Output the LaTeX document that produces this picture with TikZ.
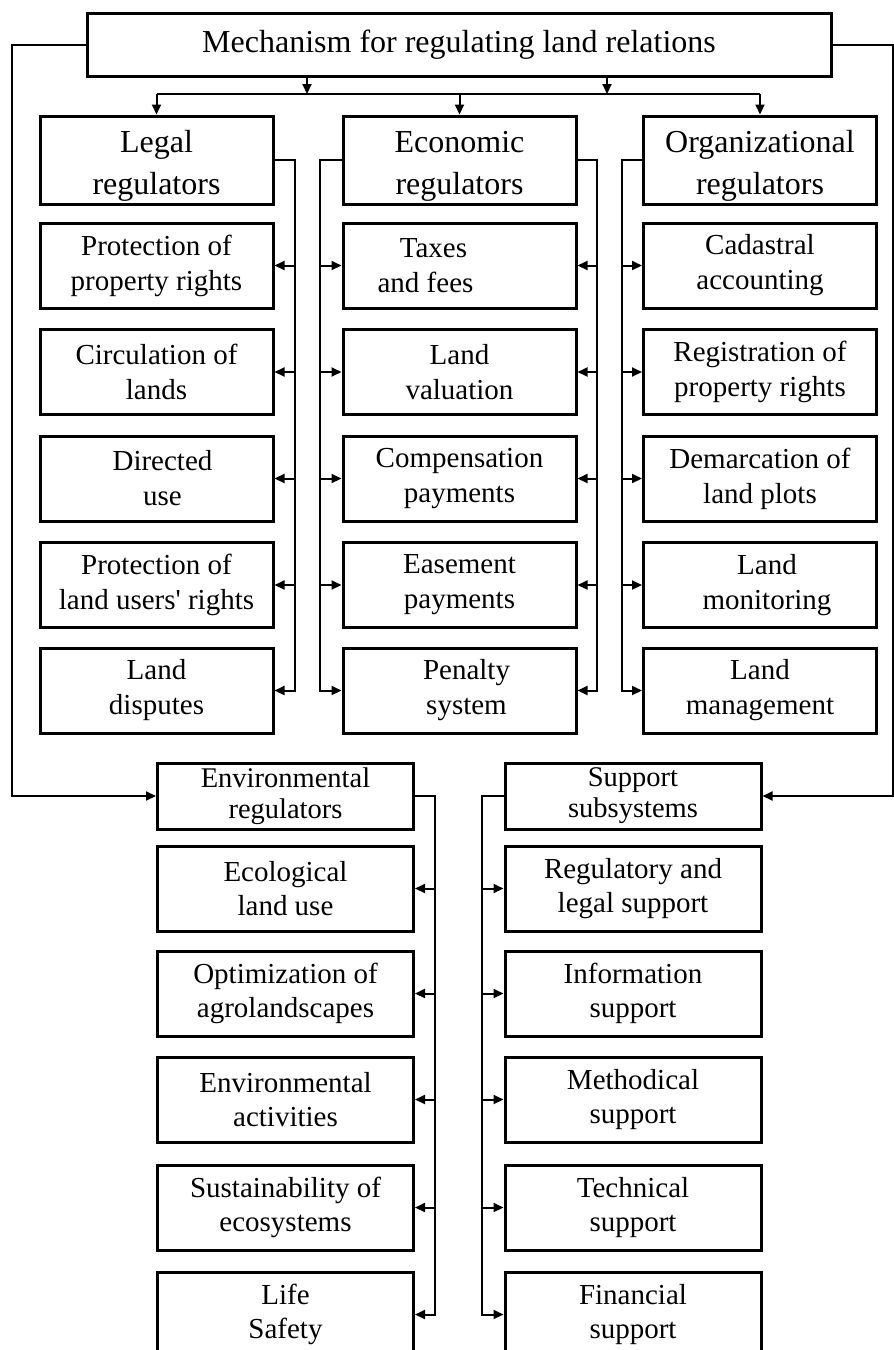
\documentclass[tikz,border=0pt]{standalone}
\usepackage{fontspec}
\setmainfont{Liberation Serif}
\usetikzlibrary{arrows.meta}
\newcommand\hdrstrut{\rule{0pt}{34pt}}
\begin{document}
\begin{tikzpicture}[x=1pt,y=-1pt,
  box/.style={draw, line width=3pt, align=center, inner sep=0pt, fill=white},
  ttl/.style={box, minimum width=744pt, minimum height=63pt, font=\fontsize{32}{38}\selectfont},
  hdr/.style={box, minimum width=233pt, minimum height=88pt, font=\fontsize{32}{42}\selectfont},
  itm/.style={box, minimum width=233pt, minimum height=85pt, font=\fontsize{29}{35}\selectfont},
  bhdr/.style={box, minimum width=256pt, minimum height=66pt, font=\fontsize{28.5}{31}\selectfont},
  bitm/.style={box, minimum width=256pt, minimum height=85pt, font=\fontsize{29}{34}\selectfont},
  conn/.style={line width=2pt},
  arr/.style={conn, -{Triangle[length=10pt,width=9pt]}}]
\path[use as bounding box, clip] (0,0) rectangle (894,1350);

% title
\node[ttl] (top) at (459,44.5) {Mechanism for regulating land relations};

% column headers
\node[hdr] (lh) at (156.5,160) {\hdrstrut Legal\\regulators};
\node[hdr] (eh) at (459.5,160) {\hdrstrut Economic\\regulators};
\node[hdr] (oh) at (760,160) {\hdrstrut Organizational\\regulators};

% legal
\node[itm] (l1) at (156.5,265.5) {Protection of\\property rights};
\node[itm] (l2) at (156.5,372) {Circulation of\\lands};
\node[itm] (l3) at (156.5,478.5) {\rule{12pt}{0pt}Directed\\\rule{12pt}{0pt}use};
\node[itm] (l4) at (156.5,585) {Protection of\\land users\textquotesingle\ rights};
\node[itm] (l5) at (156.5,690.5) {Land\\disputes};

% economic
\node[itm] (e1) at (459.5,265.5) {Taxes\rule{52pt}{0pt}\\and fees\rule{68pt}{0pt}};
\node[itm] (e2) at (459.5,372) {Land\\valuation};
\node[itm] (e3) at (459.5,478.5) {Compensation\\payments};
\node[itm] (e4) at (459.5,585) {Easement\\payments};
\node[itm] (e5) at (459.5,690.5) {\rule{14pt}{0pt}Penalty\\\rule{14pt}{0pt}system};

% organizational
\node[itm] (o1) at (760,265.5) {Cadastral\\accounting};
\node[itm] (o2) at (760,372) {Registration of\\property rights};
\node[itm] (o3) at (760,478.5) {Demarcation of\\land plots};
\node[itm] (o4) at (760,585) {\rule{14pt}{0pt}Land\\\rule{14pt}{0pt}monitoring};
\node[itm] (o5) at (760,690.5) {Land\\management};

% bottom headers
\node[bhdr] (env) at (285.5,796) {Environmental\\regulators};
\node[bhdr] (sup) at (633,796) {Support\\subsystems};

% environmental items
\node[bitm] (v1) at (285.5,888.5) {Ecological\\land use};
\node[bitm] (v2) at (285.5,993.5) {Optimization of\\agrolandscapes};
\node[bitm] (v3) at (285.5,1099.5) {Environmental\\activities};
\node[bitm] (v4) at (285.5,1207.5) {Sustainability of\\ecosystems};
\node[bitm] (v5) at (285.5,1314.5) {Life\\Safety};

% support items
\node[bitm] (s1) at (633,888.5) {Regulatory and\\legal support};
\node[bitm] (s2) at (633,993.5) {Information\\support};
\node[bitm] (s3) at (633,1099.5) {Methodical\\support};
\node[bitm] (s4) at (633,1207.5) {Technical\\support};
\node[bitm] (s5) at (633,1314.5) {Financial\\support};

% top distribution
\coordinate (bl) at (156.5,94);
\coordinate (br) at (760,94);
\draw[conn] (bl) -- (br);
\draw[arr] ([xshift=-152pt]top.south) -- ([xshift=-152pt]top.south |- bl);
\draw[arr] ([xshift=148pt]top.south) -- ([xshift=148pt]top.south |- bl);
\draw[arr] (bl) -- (lh.north);
\draw[arr] (eh.north |- bl) -- (eh.north);
\draw[arr] (br) -- (oh.north);

% side loops
\coordinate (lc) at (12,44.5);
\coordinate (rc) at (893,44.5);
\draw[arr] (top.west) -- (lc) |- (env.west);
\draw[arr] (top.east) -- (rc) |- (sup.east);

% buses
\coordinate (lb) at (295,0);
\coordinate (elb) at (320,0);
\coordinate (erb) at (597,0);
\coordinate (ob) at (622,0);
\coordinate (vb) at (435,0);
\coordinate (sb) at (482,0);

\draw[arr] (lh.east) -- (lh.east -| lb) |- (l5.east);
\draw[arr] (eh.west) -- (eh.west -| elb) |- (e5.west);
\draw[arr] (eh.east) -- (eh.east -| erb) |- (e5.east);
\draw[arr] (oh.west) -- (oh.west -| ob) |- (o5.west);
\draw[arr] (env.east) -- (env.east -| vb) |- (v5.east);
\draw[arr] (sup.west) -- (sup.west -| sb) |- (s5.west);
\foreach \i in {1,...,4}{
  \draw[arr] (l\i.east -| lb) -- (l\i.east);
  \draw[arr] (e\i.west -| elb) -- (e\i.west);
  \draw[arr] (e\i.east -| erb) -- (e\i.east);
  \draw[arr] (o\i.west -| ob) -- (o\i.west);
  \draw[arr] (v\i.east -| vb) -- (v\i.east);
  \draw[arr] (s\i.west -| sb) -- (s\i.west);
}
\end{tikzpicture}
\end{document}
